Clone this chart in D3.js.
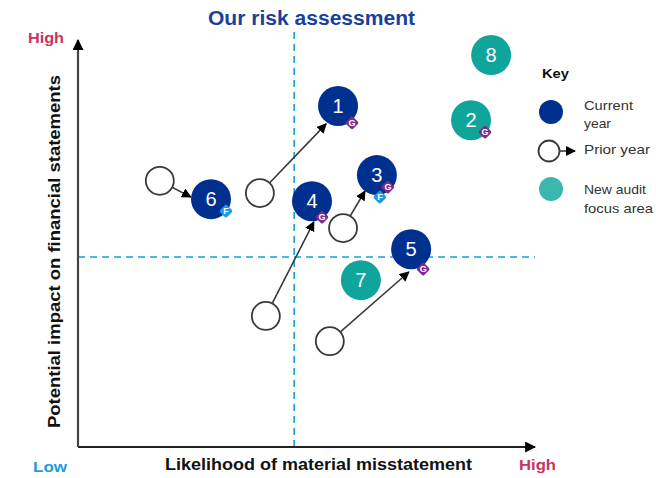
<!DOCTYPE html>
<html>
<head>
<meta charset="utf-8">
<script src="https://cdn.jsdelivr.net/npm/d3@7"></script>
<style>
  html, body { margin: 0; padding: 0; background: #fff; }
  svg { display: block; }
  text { font-family: "Liberation Sans", Arial, sans-serif; }
</style>
</head>
<body>
<svg id="chart" width="656" height="478"></svg>
<script>
// Risk ids and their positions on the 0-100 likelihood / impact scales
const riskIds       = [1, 2, 3, 4, 5, 6, 7, 8];
const likelihood    = [56.9, 86.0, 65.4, 51.2, 72.9, 29.1, 61.9, 90.4];
const impact        = [83.8, 80.3, 66.8, 60.4, 48.6, 60.9, 41.0, 96.3];
const riskGroup     = ["current", "focus", "current", "current", "current", "current", "focus", "focus"];
const riskFlags     = [["G"], ["G"], ["G", "F"], ["G"], ["G"], ["F"], [], []];

// Where the risks that moved sat in the prior year, and where each arrow lands
const priorIds        = [1, 3, 4, 5, 6];
const priorLikelihood = [39.8, 58.0, 41.1, 55.1, 17.9];
const priorImpact     = [62.4, 53.8, 32.2, 26.0, 65.4];
const arrowLikelihood = [54.3, 62.8, 51.6, 72.4, 24.7];
const arrowImpact     = [79.4, 62.9, 55.3, 43.0, 61.4];

// Quadrant dividers
const midLikelihood = 47.3;
const midImpact     = 46.7;

const navy = "#00308f", teal = "#0fa59a", keyTeal = "#3cb7ae", sky = "#1c9be0",
      purple = "#7b2a8e", crimson = "#c9325f", ink = "#111", line = "#3a3a3a";

const svg = d3.select("#chart");
const x = d3.scaleLinear().domain([0, 100]).range([78, 535]);
const y = d3.scaleLinear().domain([0, 100]).range([447, 40]);

const defs = svg.append("defs");
function addArrow(id, size) {
  defs.append("marker").attr("id", id)
    .attr("viewBox", "0 0 10 10").attr("refX", 9).attr("refY", 5)
    .attr("markerUnits", "userSpaceOnUse")
    .attr("markerWidth", size).attr("markerHeight", size)
    .attr("orient", "auto")
    .append("path").attr("d", "M0,0L10,5L0,10Z").attr("fill", "#000");
}
addArrow("tip", 10);
addArrow("axisTip", 11);

// Quadrant dividers
svg.append("line")
  .attr("x1", x(midLikelihood)).attr("x2", x(midLikelihood))
  .attr("y1", 32).attr("y2", y(0));
svg.append("line")
  .attr("x1", x(0)).attr("x2", x(100))
  .attr("y1", y(midImpact)).attr("y2", y(midImpact));
svg.selectAll("line")
  .attr("stroke", sky).attr("stroke-width", 1.6).attr("stroke-dasharray", "7 5");

// Axes, drawn with tick marks removed
const xAxis = svg.append("g").attr("transform", `translate(0,${y(0)})`)
  .call(d3.axisBottom(x).tickValues([]).tickSize(0));
const yAxis = svg.append("g").attr("transform", `translate(${x(0)},0)`)
  .call(d3.axisLeft(y).tickValues([]).tickSize(0));
xAxis.select("path").attr("stroke", "#222").attr("stroke-width", 1.8).attr("marker-end", "url(#axisTip)")
  .attr("d", `M${x(0)},0L${x(100)},0`);
yAxis.select("path").attr("stroke", "#444").attr("stroke-width", 2.2)
  .attr("d", `M0,${y(0)}L0,${y(100)}`).attr("marker-end", "url(#axisTip)");

// Prior-year circles with arrows to the current position
const moves = priorIds.map((id, i) => ({
  px: x(priorLikelihood[i]), py: y(priorImpact[i]),
  tx: x(arrowLikelihood[i]), ty: y(arrowImpact[i])
}));
const priorR = 14, currentR = 20;
svg.append("g").selectAll("line").data(moves).join("line")
  .attr("x1", d => d.px).attr("y1", d => d.py)
  .attr("x2", d => d.tx).attr("y2", d => d.ty)
  .attr("stroke", line).attr("stroke-width", 1.6).attr("marker-end", "url(#tip)");
svg.append("g").selectAll("circle").data(moves).join("circle")
  .attr("cx", d => d.px).attr("cy", d => d.py).attr("r", priorR)
  .attr("fill", "#fff").attr("stroke", line).attr("stroke-width", 1.8);

// Current-year risks
const risks = riskIds.map((id, i) => ({
  id, group: riskGroup[i], flags: riskFlags[i],
  cx: x(likelihood[i]), cy: y(impact[i])
}));
const nodes = svg.append("g").selectAll("g").data(risks).join("g")
  .attr("transform", d => `translate(${d.cx},${d.cy})`);
nodes.append("circle").attr("r", currentR)
  .attr("fill", d => d.group === "current" ? navy : teal);
nodes.append("text").text(d => d.id)
  .attr("text-anchor", "middle").attr("dy", "0.36em")
  .attr("font-size", 20).attr("fill", "#fff");

// Small diamond flags sitting on the rim of each risk
const flagFill = { G: purple, F: sky };
const flagOffset = {
  "1G": [14, 17], "2G": [14, 12], "3G": [11, 12], "3F": [3, 22],
  "4G": [10, 16], "5G": [12, 20], "6F": [15, 12]
};
const flags = nodes.selectAll("g.flag")
  .data(d => d.flags.map(f => ({ f, offset: flagOffset[d.id + f] })))
  .join("g").attr("class", "flag")
  .attr("transform", d => `translate(${d.offset[0]},${d.offset[1]})`);
flags.append("rect").attr("x", -5).attr("y", -5).attr("width", 10).attr("height", 10).attr("rx", 2)
  .attr("transform", "rotate(45)")
  .attr("fill", d => flagFill[d.f]);
flags.append("text").text(d => d.f)
  .attr("text-anchor", "middle").attr("dy", "0.36em")
  .attr("font-size", 9).attr("font-weight", "bold").attr("fill", "#fff");

// Text helper; the width argument sets the drawn length of the string
function label(str, px, py, size, color, weight, anchor, width) {
  const t = svg.append("text").text(str).attr("x", px).attr("y", py)
    .attr("font-size", size).attr("fill", color)
    .attr("font-weight", weight || "normal")
    .attr("text-anchor", anchor || "start");
  if (width) t.attr("textLength", width).attr("lengthAdjust", "spacingAndGlyphs");
  return t;
}
label("Our risk assessment", 311.5, 25, 20, "#1a3f9c", "bold", "middle", 207);
label("High", 28, 43, 15.5, crimson, "bold", "start", 36);
label("Low", 33, 472, 15.5, sky, "bold", "start", 34);
label("High", 519, 470, 15.5, crimson, "bold", "start", 37);
label("Likelihood of material misstatement", 318.5, 470, 16, ink, "bold", "middle", 307);
svg.append("text").text("Potential impact on financial statements")
  .attr("transform", "translate(60,251.5) rotate(-90)")
  .attr("text-anchor", "middle")
  .attr("textLength", 353).attr("lengthAdjust", "spacingAndGlyphs")
  .attr("font-size", 16).attr("font-weight", "bold").attr("fill", ink);

// Key
label("Key", 542, 78, 13, ink, "bold", "start", 27);
svg.append("circle").attr("cx", 551).attr("cy", 112).attr("r", 12).attr("fill", navy);
svg.append("line").attr("x1", 550).attr("y1", 151).attr("x2", 575).attr("y2", 151)
  .attr("stroke", line).attr("stroke-width", 1.6).attr("marker-end", "url(#tip)");
svg.append("circle").attr("cx", 549).attr("cy", 151).attr("r", 10.5)
  .attr("fill", "#fff").attr("stroke", line).attr("stroke-width", 1.8);
svg.append("circle").attr("cx", 551).attr("cy", 189).attr("r", 12).attr("fill", keyTeal);
[["Current", 109.5, 49], ["year", 128, 27], ["Prior year", 154, 66], ["New audit", 194, 62], ["focus area", 213, 69]]
  .forEach(([t, py, w]) => label(t, 584, py, 13, "#333", "normal", "start", w));
</script>
</body>
</html>
